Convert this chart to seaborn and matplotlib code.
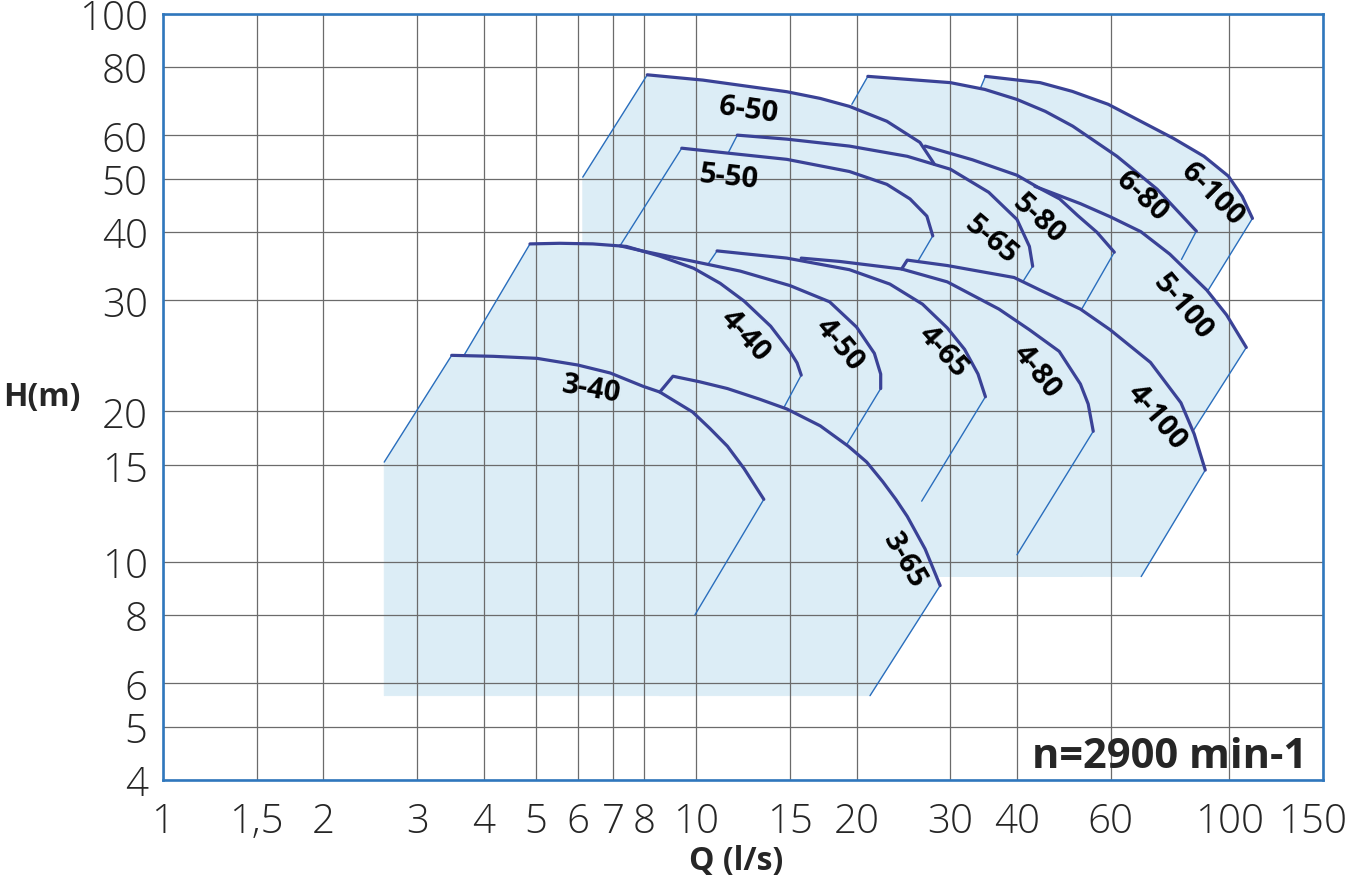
import matplotlib
matplotlib.use('Agg')
from matplotlib import pyplot as plt
from matplotlib.ticker import NullLocator
from matplotlib.transforms import ScaledTranslation
import seaborn as sns

sns.set_style('ticks')
plt.rcParams['font.family'] = ['Open Sans', 'DejaVu Sans']

# pump field chart, Q in l/s, H in m
pumps = ['3-40', '3-65', '4-40', '4-50', '4-65', '4-80', '4-100',
         '5-50', '5-65', '5-80', '5-100', '6-50', '6-80', '6-100']

curve_q = {
    '3-40': [3.48, 4.17, 5.03, 6.0, 6.9, 7.95, 8.55, 9.85, 10.62, 11.45, 12.3, 13.4],
    '3-65': [8.55, 9.05, 10.15, 11.45, 13.15, 14.8, 17.1, 19.3, 20.9, 22.4, 23.7, 24.9, 26.9, 28.7],
    '4-40': [4.88, 5.55, 6.4, 7.4, 8.55, 9.9, 11.1, 12.3, 13.8, 15.0, 15.47, 15.75],
    '4-50': [7.2, 7.92, 9.9, 12.1, 15.0, 17.8, 20.0, 21.6, 22.2, 22.2],
    '4-65': [10.95, 14.8, 19.4, 23.1, 26.6, 29.6, 31.9, 33.8, 34.9],
    '4-80': [15.75, 18.6, 24.3, 29.6, 37.0, 42.2, 48.0, 52.6, 54.4, 55.6],
    '4-100': [24.3, 24.9, 29.6, 39.5, 44.2, 52.6, 59.8, 71.2, 81.2, 86.0, 90.2],
    '5-50': [9.4, 11.95, 14.8, 19.4, 22.8, 25.2, 27.1, 27.8],
    '5-65': [11.95, 14.8, 19.4, 24.9, 30.0, 35.4, 40.0, 42.2, 42.8],
    '5-80': [26.9, 33.0, 40.0, 44.1, 48.1, 52.0, 56.5, 60.9],
    '5-100': [43.2, 52.6, 59.8, 68.3, 77.4, 90.8, 98.9, 107.7],
    '6-50': [8.1, 10.3, 14.8, 17.1, 19.4, 22.8, 26.3, 28.0],
    '6-80': [21.0, 30.0, 34.8, 40.0, 45.2, 50.9, 61.6, 73.3, 86.8],
    '6-100': [34.9, 44.2, 50.8, 59.3, 78.6, 89.7, 99.7, 105.8, 110.6],
}
curve_h = {
    '3-40': [23.8, 23.7, 23.5, 22.85, 22.1, 20.9, 20.4, 18.76, 17.5, 16.25, 14.8, 13.0],
    '3-65': [20.4, 21.8, 21.3, 20.7, 19.8, 19.0, 17.7, 16.25, 15.2, 14.0, 13.0, 12.1, 10.55, 9.05],
    '4-40': [38.0, 38.1, 38.0, 37.6, 36.1, 34.3, 32.2, 29.9, 26.9, 24.2, 23.05, 21.9],
    '4-50': [37.7, 36.9, 35.3, 33.9, 31.9, 29.8, 26.8, 24.0, 22.0, 20.7],
    '4-65': [36.9, 35.8, 34.1, 32.1, 29.5, 26.7, 24.4, 22.0, 20.0],
    '4-80': [35.8, 35.3, 34.2, 32.4, 28.9, 26.5, 24.2, 21.1, 19.4, 17.3],
    '4-100': [34.2, 35.5, 34.7, 33.0, 31.3, 28.9, 26.5, 23.1, 19.5, 17.1, 14.7],
    '5-50': [56.8, 55.4, 54.2, 51.5, 48.8, 45.9, 42.7, 39.3],
    '5-65': [60.0, 59.0, 57.3, 54.9, 52.0, 47.2, 42.1, 37.6, 34.6],
    '5-80': [57.3, 54.1, 50.7, 48.0, 45.9, 42.8, 39.9, 36.7],
    '5-100': [48.4, 45.0, 42.6, 40.0, 36.4, 31.3, 28.2, 24.6],
    '6-50': [77.3, 75.6, 72.0, 70.0, 67.7, 63.6, 58.2, 53.1],
    '6-80': [76.8, 74.8, 72.7, 69.7, 66.3, 62.3, 54.9, 47.8, 40.1],
    '6-100': [76.8, 74.8, 72.1, 68.3, 59.2, 54.9, 50.5, 46.4, 42.3],
}

# lower ends of the thin limit lines (Q, H)
left_foot = {
    '3-40': (2.6, 15.2), '4-40': (3.67, 23.8), '4-65': (10.55, 35.0),
    '5-50': (7.2, 37.7), '5-65': (11.5, 55.8), '6-50': (6.13, 50.3),
    '6-80': (19.6, 68.3), '6-100': (34.2, 73.3),
}
right_foot = {
    '3-40': (9.95, 8.0), '3-65': (21.2, 5.7), '4-40': (14.65, 19.2),
    '4-50': (19.2, 16.4), '4-65': (26.5, 12.9), '4-80': (40.0, 10.3),
    '4-100': (68.4, 9.4), '5-50': (26.1, 35.4), '5-65': (41.0, 32.4),
    '5-80': (52.9, 28.9), '5-100': (85.5, 17.3), '6-80': (81.4, 35.6),
    '6-100': (91.0, 31.1),
}
# lower H of the shaded field under each pump
field_floor = {
    '3-40': 5.7, '3-65': 5.7, '4-40': 9.4, '4-50': 9.4, '4-65': 9.4,
    '4-80': 9.4, '4-100': 9.4, '5-50': 9.4, '5-65': 9.4, '5-80': 9.4,
    '5-100': 16.4, '6-50': 9.4, '6-80': 30.0, '6-100': 30.0,
}

# curve labels: (Q, H) of the text centre and its angle
label_pos = {
    '3-40': (6.35, 20.7), '3-65': (24.6, 10.1), '4-40': (12.35, 25.9),
    '4-50': (18.6, 25.0), '4-65': (29.0, 24.2), '4-80': (43.6, 22.3),
    '4-100': (73.2, 18.4), '5-50': (11.5, 50.5), '5-65': (35.7, 38.8),
    '5-80': (44.0, 42.3), '5-100': (82.0, 29.3), '6-50': (12.55, 66.8),
    '6-80': (68.5, 46.6), '6-100': (92.9, 47.0),
}
label_rot = {
    '3-40': -10, '3-65': -60, '4-40': -48, '4-50': -50, '4-65': -48,
    '4-80': -52, '4-100': -50, '5-50': -6, '5-65': -40, '5-80': -42,
    '5-100': -50, '6-50': -8, '6-80': -43, '6-100': -45,
}

xtick_values = [1, 1.5, 2, 3, 4, 5, 6, 7, 8, 10, 15, 20, 30, 40, 60, 100, 150]
xtick_labels = ['1', '1,5', '2', '3', '4', '5', '6', '7', '8', '10', '15',
                '20', '30', '40', '60', '100', '150']
ytick_labels = ['4', '5', '6', '8', '10', '15', '20', '30', '40', '50', '60', '80', '100']
# the source draws its "20" line a little low, at about 18.8
ytick_values = [4, 5, 6, 8, 10, 15, 18.8, 30, 40, 50, 60, 80, 100]

shade = '#dcedf6'
curve_color = '#3a4296'
edge_color = '#2a6ebd'
frame_color = '#2f77bd'

fig = plt.figure(figsize=(13.49, 8.78), dpi=100)
ax = fig.add_axes([163 / 1349, 1 - 781 / 878, 1160 / 1349, 766.5 / 878])
ax.set_xscale('log')
ax.set_yscale('log')

for p in pumps:
    q, h = curve_q[p], curve_h[p]
    start = left_foot.get(p, (q[0], h[0]))
    end = right_foot.get(p, (q[-1], h[-1]))
    floor = field_floor[p]
    ax.fill([start[0], start[0]] + q + [end[0], end[0]],
            [floor, start[1]] + h + [end[1], floor],
            color=shade, lw=0.6, zorder=1)

for p in pumps:
    q, h = curve_q[p], curve_h[p]
    if p in left_foot:
        lf = left_foot[p]
        ax.plot([lf[0], q[0]], [lf[1], h[0]], color=edge_color, lw=1.0, zorder=3)
    if p in right_foot:
        rf = right_foot[p]
        ax.plot([q[-1], rf[0]], [h[-1], rf[1]], color=edge_color, lw=1.0, zorder=3)
    sns.lineplot(x=q, y=h, sort=False, estimator=None, color=curve_color,
                 lw=2.3, ax=ax, zorder=4)
    lq, lh = label_pos[p]
    ax.text(lq, lh, p, rotation=label_rot[p], rotation_mode='anchor',
            ha='center', va='center', fontsize=21, fontweight='bold',
            color='black', zorder=5)

ax.set_xlim(1, 150)
ax.set_ylim(4, 100)
ax.set_xticks(xtick_values)
ax.set_xticklabels(xtick_labels, fontsize=29, fontweight='light')
ax.set_yticks(ytick_values)
ax.set_yticklabels(ytick_labels, fontsize=29, fontweight='light')
ax.xaxis.set_minor_locator(NullLocator())
ax.yaxis.set_minor_locator(NullLocator())
ax.tick_params(axis='both', length=0)
ax.tick_params(axis='x', pad=15)
ax.tick_params(axis='y', pad=11)

# the last x label sits a little left of its line, as in the source
last = ax.xaxis.get_major_ticks()[-1].label1
last.set_transform(last.get_transform() + ScaledTranslation(-0.1, 0, fig.dpi_scale_trans))

ax.set_axisbelow(False)
ax.grid(True, which='major', color='#6b6b6b', lw=0.9)
for s in ax.spines.values():
    s.set_color(frame_color)
    s.set_linewidth(1.9)
    s.set_zorder(6)

ax.text(0.986, 0.017, 'n=2900 min-1', transform=ax.transAxes, ha='right',
        va='baseline', fontsize=30, fontweight='bold', zorder=7)
fig.text(42 / 1349, 1 - 398 / 878, 'H(m)', ha='center', va='center',
         fontsize=23, fontweight='bold')
fig.text(736 / 1349, 8 / 878, 'Q (l/s)', ha='center', va='baseline',
         fontsize=23, fontweight='bold')

fig.savefig('out.png', dpi=100)
